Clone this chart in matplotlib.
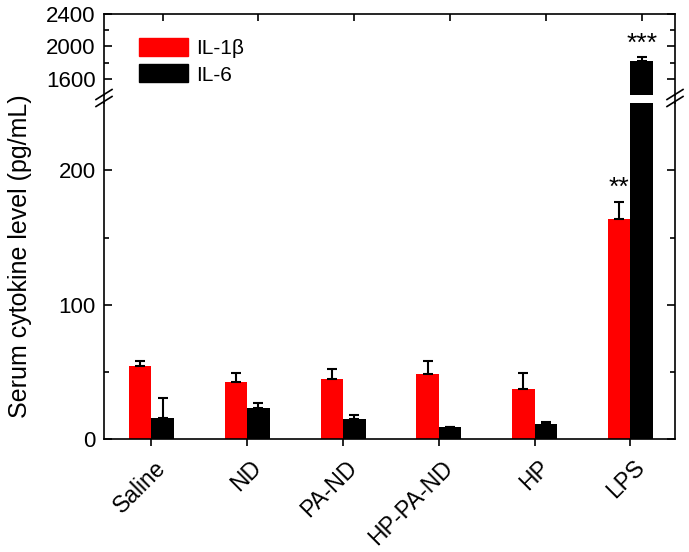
import numpy as np
import matplotlib
matplotlib.use('Agg')
from matplotlib import pyplot
from matplotlib.lines import Line2D
from matplotlib.patches import Patch
from matplotlib.transforms import ScaledTranslation

# values
groups = ['Saline', 'ND', 'PA-ND', 'HP-PA-ND', 'HP', 'LPS']
il1b = [54.5, 42.8, 44.5, 48.7, 37.5, 164]
il1b_err = [3.7, 6.7, 7.5, 9.5, 11.8, 12.6]
il6 = [16.2, 23.4, 14.9, 9.0, 11.7, 1825]
il6_err = [14.2, 3.5, 3.0, 0.5, 1.5, 40]
stars_il1b = ['', '', '', '', '', '**']
stars_il6 = ['', '', '', '', '', '***']

pyplot.rcParams['font.family'] = ['Liberation Sans', 'DejaVu Sans']

W, H = 689, 552
fig = pyplot.figure(figsize=(W / 100, H / 100), dpi=100)

def fx(px):
    return px / W

def fy(py):
    return 1 - py / H

left, right = 104, 675
lo_top, lo_bot = 103, 439.3
up_top, up_bot = 14, 95.2
ax_lo = fig.add_axes([fx(left), fy(lo_bot), fx(right - left), fy(lo_top) - fy(lo_bot)])
ax_up = fig.add_axes([fx(left), fy(up_bot), fx(right - left), fy(up_top) - fy(up_bot)])

x = np.arange(len(groups))
w = 0.235
lw = 1.2
for ax in (ax_lo, ax_up):
    ax.bar(x - w / 2, il1b, w, color='#ff0000', label='IL-1β')
    ax.bar(x + w / 2, il6, w, color='black', label='IL-6')
    ax.errorbar(x - w / 2, il1b, yerr=[np.zeros(len(x)), il1b_err], fmt='none',
                ecolor='black', elinewidth=1.5, capsize=3.3, capthick=1.5)
    ax.errorbar(x + w / 2, il6, yerr=[np.zeros(len(x)), il6_err], fmt='none',
                ecolor='black', elinewidth=1.5, capsize=3.3, capthick=1.5)
    ax.set_xlim(-0.495, 5.465)
    for s in ax.spines.values():
        s.set_linewidth(lw)
    ax.tick_params(axis='y', which='major', direction='in', length=6, width=lw,
                   left=True, right=True, labelsize=16, pad=6)
    ax.tick_params(axis='y', which='minor', direction='in', length=3.5, width=lw,
                   left=True, right=True)

ax_lo.set_ylim(0, 250)
ax_lo.set_yticks([0, 100, 200])
ax_lo.set_yticks([50, 150], minor=True)
ax_lo.spines['top'].set_visible(False)
ax_lo.set_xticks(x)
ax_lo.set_xticklabels(groups, rotation=45, ha='right', va='center',
                      rotation_mode='anchor', fontsize=16.5)
ax_lo.tick_params(axis='x', direction='out', length=5, width=lw, top=False, pad=10)
shift = ScaledTranslation(11 / 100, -4 / 100, fig.dpi_scale_trans)
for lab in ax_lo.get_xticklabels():
    lab.set_transform(lab.get_transform() + shift)

ax_up.set_ylim(1400, 2400)
ax_up.set_yticks([1600, 2000, 2400])
ax_up.set_yticks([1800, 2200], minor=True)
ax_up.spines['bottom'].set_visible(False)
ax_up.set_xticks(x + w / 2)
ax_up.tick_params(axis='x', direction='in', length=5, width=lw, bottom=False, top=True,
                  labelbottom=False)

# significance marks
for i in range(len(x)):
    if stars_il1b[i]:
        ax_lo.annotate(stars_il1b[i], (x[i] - w / 2, il1b[i] + il1b_err[i]),
                       xytext=(0, 1), textcoords='offset points',
                       ha='center', va='bottom', fontsize=19)
    if stars_il6[i]:
        ax_up.annotate(stars_il6[i], (x[i] + w / 2, il6[i] + il6_err[i]),
                       xytext=(0, 1), textcoords='offset points',
                       ha='center', va='bottom', fontsize=19)

# legend
handles = [Patch(color='#ff0000'), Patch(color='black')]
ax_up.legend(handles, ['IL-1β', 'IL-6'], loc='upper left',
             bbox_to_anchor=(fx(139), fy(38)), bbox_transform=fig.transFigure,
             frameon=False, fontsize=15, handlelength=2.35, handleheight=0.95,
             labelspacing=0.3, handletextpad=0.4, borderaxespad=0, borderpad=0)

# axis break: join the spines and draw the double slash
for px in (left, right):
    fig.add_artist(Line2D([fx(px), fx(px)], [fy(up_bot), fy(lo_top)], color='black',
                          lw=lw, transform=fig.transFigure))
    for dy in (-3.5, 3.5):
        yc = 98 + dy
        fig.add_artist(Line2D([fx(px - 8), fx(px + 8)], [fy(yc + 5), fy(yc - 5)],
                              color='black', lw=lw, transform=fig.transFigure))

fig.text(fx(20), fy(256), 'Serum cytokine level (pg/mL)', rotation=90,
         ha='center', va='center', fontsize=18)

fig.savefig('out.png', dpi=100)
